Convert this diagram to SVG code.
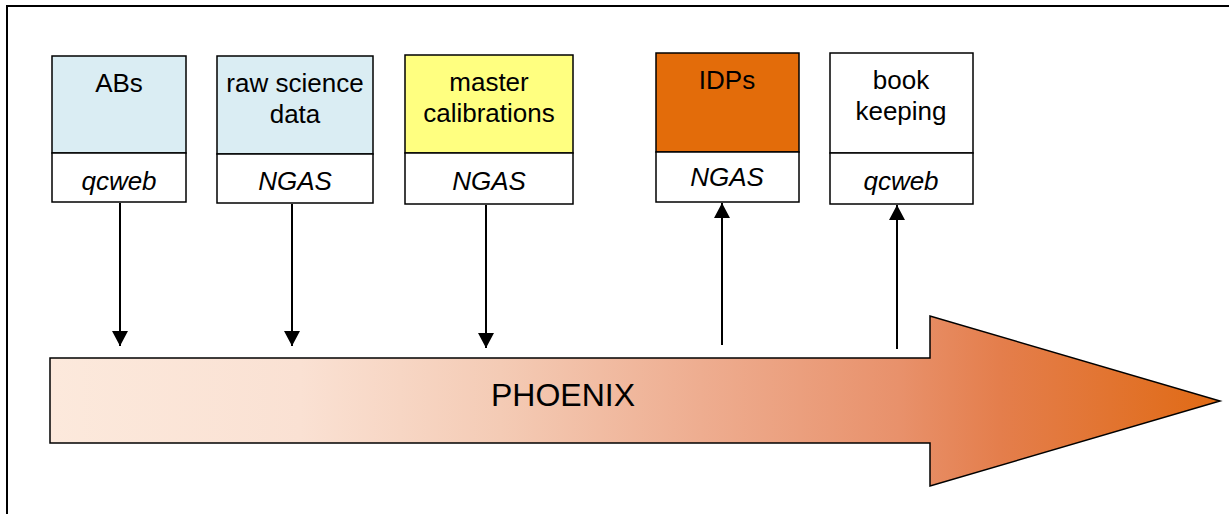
<svg xmlns="http://www.w3.org/2000/svg" width="1229" height="514" viewBox="0 0 1229 514">
<defs>
<linearGradient id="g" x1="50" y1="0" x2="1220" y2="0" gradientUnits="userSpaceOnUse">
<stop offset="0" stop-color="#fce9dc"/>
<stop offset="0.214" stop-color="#fae1d3"/>
<stop offset="0.385" stop-color="#f4cbb5"/>
<stop offset="0.556" stop-color="#eead90"/>
<stop offset="0.726" stop-color="#e8916b"/>
<stop offset="0.812" stop-color="#e47e4c"/>
<stop offset="1" stop-color="#e06a14"/>
</linearGradient>
<marker id="ah" markerWidth="15" markerHeight="16" refX="15" refY="8" orient="auto" markerUnits="userSpaceOnUse" viewBox="0 0 15 16">
<path d="M0,0 L15,8 L0,16 Z" fill="#000"/>
</marker>
<style>
.box{stroke:#000;stroke-width:1.5}
.t{font-family:"Liberation Sans",Arial,sans-serif;font-size:26px;fill:#000;text-anchor:middle}
.i{font-style:italic}
.c{stroke:#000;stroke-width:2;fill:none}
</style>
</defs>
<rect width="1229" height="514" fill="#fff"/>
<path d="M7,514 V6 H1229" fill="none" stroke="#000" stroke-width="2"/>

<g id="phoenix">
<path d="M50,358 H930 V316 L1220,401 L930,486 V443 H50 Z" fill="url(#g)" stroke="#000" stroke-width="1.5"/>
<text class="t" x="563" y="406" style="font-size:32px">PHOENIX</text>
</g>

<g id="abs">
<rect class="box" x="52" y="56" width="134" height="97" fill="#daedf3"/>
<rect class="box" x="52" y="153" width="134" height="49" fill="#fff"/>
<text class="t" x="119" y="92">ABs</text>
<text class="t i" x="119" y="190">qcweb</text>
</g>
<g id="raw">
<rect class="box" x="217" y="56" width="156" height="98" fill="#daedf3"/>
<rect class="box" x="217" y="154" width="156" height="49" fill="#fff"/>
<text class="t" x="295" y="92">raw science</text>
<text class="t" x="295" y="123">data</text>
<text class="t i" x="295" y="190">NGAS</text>
</g>
<g id="master">
<rect class="box" x="405" y="55" width="168" height="98" fill="#ffff80"/>
<rect class="box" x="405" y="153" width="168" height="51" fill="#fff"/>
<text class="t" x="489" y="91">master</text>
<text class="t" x="489" y="122">calibrations</text>
<text class="t i" x="489" y="190">NGAS</text>
</g>
<g id="idps">
<rect class="box" x="656" y="53" width="143" height="99" fill="#e36c0a"/>
<rect class="box" x="656" y="152" width="143" height="50" fill="#fff"/>
<text class="t" x="727" y="89">IDPs</text>
<text class="t i" x="727" y="186">NGAS</text>
</g>
<g id="book">
<rect class="box" x="830" y="53" width="143" height="100" fill="#fff"/>
<rect class="box" x="830" y="153" width="143" height="51" fill="#fff"/>
<text class="t" x="901" y="89">book</text>
<text class="t" x="901" y="120">keeping</text>
<text class="t i" x="901" y="190">qcweb</text>
</g>

<g id="connectors">
<line class="c" x1="120" y1="203" x2="120" y2="346" marker-end="url(#ah)"/>
<line class="c" x1="292" y1="204" x2="292" y2="346" marker-end="url(#ah)"/>
<line class="c" x1="486" y1="205" x2="486" y2="348" marker-end="url(#ah)"/>
<line class="c" x1="722" y1="345" x2="722" y2="203" marker-end="url(#ah)"/>
<line class="c" x1="897" y1="349" x2="897" y2="205" marker-end="url(#ah)"/>
</g>
</svg>
